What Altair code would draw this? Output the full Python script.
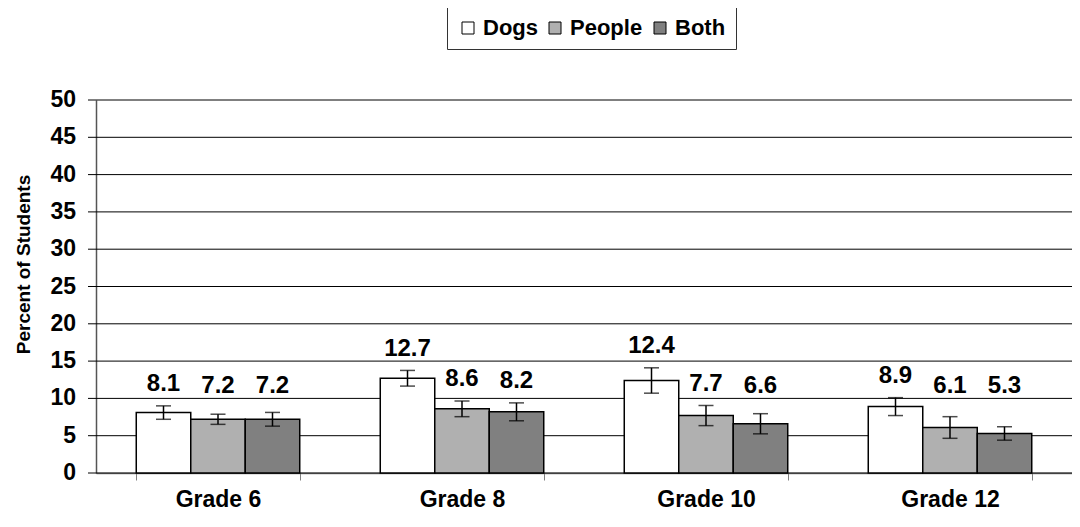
import altair as alt
import pandas as pd

grades = ["Grade 6", "Grade 8", "Grade 10", "Grade 12"]
series = ["Dogs", "People", "Both"]
dogs = [8.1, 12.7, 12.4, 8.9]
people = [7.2, 8.6, 7.7, 6.1]
both = [7.2, 8.2, 6.6, 5.3]
dogs_err = [0.9, 1.05, 1.7, 1.2]
people_err = [0.68, 1.05, 1.35, 1.45]
both_err = [0.92, 1.2, 1.35, 0.9]
y_ticks = [0, 5, 10, 15, 20, 25, 30, 35, 40, 45, 50]
colors = ["#ffffff", "#b0b0b0", "#808080"]

rows = []
for s, vals, errs in [("Dogs", dogs, dogs_err), ("People", people, people_err), ("Both", both, both_err)]:
    for g, v, e in zip(grades, vals, errs):
        rows.append({"grade": g, "series": s, "value": v, "err": e})
df = pd.DataFrame(rows)
ticks_df = pd.DataFrame({"t": y_ticks})

FONT = "Liberation Sans"
W, H = 976, 373

base = alt.Chart(df).transform_calculate(
    lo="datum.value - datum.err",
    hi="datum.value + datum.err",
    label="format(datum.value, '.1f')",
    ly="max(datum.value + datum.err + 2.9, 11.6)",
)

x_axis = alt.Axis(
    labelAngle=0, labelFont=FONT, labelFontSize=23, labelFontWeight="bold",
    labelColor="black", labelPadding=8, tickBand="extent", tickSize=7,
    tickColor="#808080", domainColor="#808080", domainWidth=1.5, grid=False,
)
x_enc = alt.X(
    "grade:N", sort=grades, title=None,
    scale=alt.Scale(paddingInner=0.33, paddingOuter=0.165), axis=x_axis,
)
x_plain = alt.X("grade:N", sort=grades, axis=None)
y_axis = alt.Axis(
    title="Percent of Students", titleFont=FONT, titleFontSize=19,
    titleFontWeight="bold", titleColor="black", titleX=-73, titleY=164,
    titleAngle=270, titleAlign="center", titleBaseline="middle",
    labels=False, ticks=False, grid=False, domainColor="#555555", domainWidth=1.5,
)
y_scale = alt.Scale(domain=[0, 50], nice=False)
y_plain = alt.Y("t:Q", scale=y_scale, axis=None)

tick_base = alt.Chart(ticks_df)
grid = tick_base.mark_rule(color="black", strokeWidth=1).encode(
    y=y_plain, x=alt.value(0), x2=alt.value(W)
)
tick_marks = tick_base.mark_rule(color="black", strokeWidth=1).encode(
    y=y_plain, x=alt.value(-8), x2=alt.value(0)
)
tick_labels = tick_base.mark_text(
    font=FONT, fontSize=23, fontWeight="bold", color="black", align="right", baseline="middle"
).encode(y=y_plain, x=alt.value(-20), text="t:Q")

xoff = alt.XOffset("series:N", sort=series, scale=alt.Scale(paddingInner=0, paddingOuter=0))

bars = base.mark_bar(stroke="black", strokeWidth=1.5).encode(
    x=x_enc,
    xOffset=xoff,
    y=alt.Y("value:Q", scale=y_scale, axis=y_axis),
    fill=alt.Fill(
        "series:N",
        sort=series,
        scale=alt.Scale(domain=series, range=colors),
        legend=alt.Legend(
            title=None, orient="none", legendX=351, legendY=-93, direction="horizontal",
            strokeColor="#333333", fillColor="white", padding=10, symbolType="square",
            symbolSize=144, symbolStrokeColor="black", symbolStrokeWidth=1,
            symbolOpacity=1, labelFont=FONT, labelFontSize=22, labelFontWeight="bold",
            labelColor="black", columnPadding=6, labelOffset=4,
        ),
    ),
)

rules = base.mark_rule(color="black", strokeWidth=1.5).encode(
    x=x_plain, xOffset=xoff, y=alt.Y("lo:Q", axis=None), y2="hi:Q",
)
caps_hi = base.mark_tick(color="black", size=15, thickness=1.5, orient="horizontal").encode(
    x=x_plain, xOffset=xoff, y=alt.Y("hi:Q", axis=None)
)
caps_lo = base.mark_tick(color="black", size=15, thickness=1.5, orient="horizontal").encode(
    x=x_plain, xOffset=xoff, y=alt.Y("lo:Q", axis=None)
)
labels = base.mark_text(
    font=FONT, fontSize=24, fontWeight="bold", color="black", baseline="middle"
).encode(
    x=x_plain, xOffset=xoff, y=alt.Y("ly:Q", axis=None), text="label:N"
)

chart = alt.layer(grid, tick_marks, tick_labels, bars, rules, caps_hi, caps_lo, labels).resolve_axis(
    x="independent", y="independent"
).properties(
    width=W, height=H,
    autosize=alt.AutoSizeParams(type="none"),
    padding={"left": 88, "top": 92, "right": 0, "bottom": 40},
    background="white",
).configure_view(stroke=None)

chart.save("out.html", embed_options={"renderer": "svg", "actions": False})
